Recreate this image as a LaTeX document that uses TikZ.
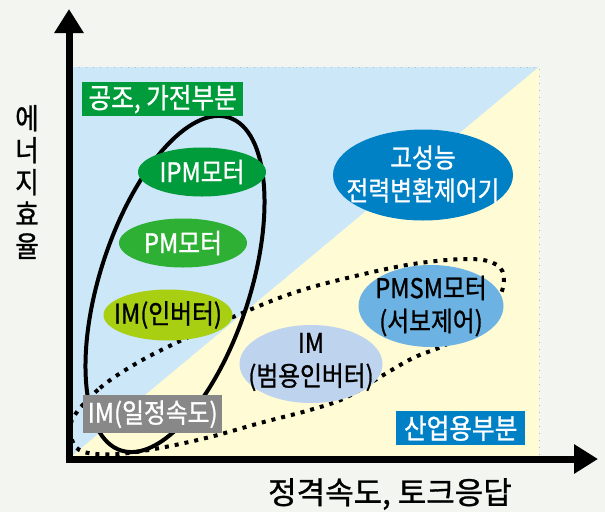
\documentclass[tikz,border=0pt]{standalone}
\usepackage{fontspec}
\setmainfont{Noto Sans CJK KR}
\newfontfamily\lblfont[FakeStretch=0.88,FakeBold=1]{Noto Sans CJK KR}
\newfontfamily\axfont[FakeBold=1]{Noto Sans CJK KR}
\usetikzlibrary{arrows.meta,shapes.geometric}
\definecolor{bg}{RGB}{243,245,240}
\definecolor{skyb}{RGB}{203,231,248}
\definecolor{creamy}{RGB}{255,251,212}
\definecolor{dkgreen}{RGB}{0,155,58}
\definecolor{ltgreen}{RGB}{45,176,52}
\definecolor{ygreen}{RGB}{168,207,18}
\definecolor{greybox}{RGB}{136,136,136}
\definecolor{paleblue}{RGB}{189,211,238}
\definecolor{midblue}{RGB}{108,178,226}
\definecolor{deepblue}{RGB}{0,129,198}
\tikzset{
  lbl/.style={font=\lblfont\fontsize{27pt}{33pt}\selectfont, inner sep=0pt, align=center},
  oval/.style={ellipse, inner sep=0pt, minimum width=#1},
  tagbox/.style={lbl, rectangle, font=\lblfont\fontsize{28pt}{30pt}\selectfont, text=white, anchor=north west},
  axisline/.style={line width=7pt, -{Triangle[width=28pt,length=24pt]}},
  groupline/.style={line width=4pt, black},
  dotline/.style={line width=4pt, black, dash pattern=on 4pt off 6pt},
  rimline/.style={gray!55, line width=0.8pt, dash pattern=on 1pt off 6pt},
  axlabel/.style={font=\axfont\fontsize{31pt}{35pt}\selectfont, inner sep=0pt, align=center},
  vlabel/.style={font=\lblfont\fontsize{29pt}{32pt}\selectfont, inner sep=0pt, align=center}
}
\begin{document}
\begin{tikzpicture}[x=1pt,y=-1pt]
\useasboundingbox (0,0) rectangle (605,512);
\fill[bg] (0,0) rectangle (605,512);
% plot area
\coordinate (pTL) at (72,67);
\coordinate (pTR) at (539,67);
\coordinate (pBR) at (539,456);
\coordinate (pBL) at (72,456);
\fill[skyb] (pBL) -- (pTL) -- (pTR) -- cycle;
\fill[creamy] (pBL) -- (pTR) -- (pBR) -- cycle;
\draw[rimline] (pTL) -- (pTR) -- (pBR);
% solid group ellipse
\node[draw, groupline, ellipse, minimum width=150pt, minimum height=350pt, rotate=-18, inner sep=0pt] (homegroup) at (175,284) {};
% dotted group
\draw[dotline] plot[smooth cycle, tension=0.6] coordinates {
  (73,418) (100,388) (137,363) (180,341) (240,314) (293,293) (347,278)
  (413,264) (470,259) (497,265) (504,281) (495,305) (470,330) (443,346)
  (413,358) (380,377) (345,398) (310,410) (260,423) (210,437) (160,448)
  (117,454) (84,452) (72,440)};
% boxes
\node[tagbox, fill=dkgreen, minimum width=161pt, minimum height=34pt] (home) at (82,82) {공조, 가전부분};
\node[tagbox, fill=deepblue, minimum width=129pt, minimum height=34pt] (industry) at (396,411) {산업용부분};
\node[lbl, rectangle, fill=greybox, text=white, minimum width=139pt, minimum height=38pt, anchor=north west] (imconst) at (83,395) {IM(일정속도)};
% ovals
\node[oval=128pt, minimum height=49pt, fill=dkgreen] (ipm) at (202,172) {};
\node[oval=128pt, minimum height=49pt, fill=ltgreen] (pm) at (183,243) {};
\node[oval=129pt, minimum height=51pt, fill=ygreen] (iminv) at (168,315) {};
\node[oval=143pt, minimum height=78pt, fill=paleblue] (imgen) at (311,364) {};
\node[oval=145pt, minimum height=82pt, fill=midblue] (pmsm) at (431,306) {};
\node[oval=180pt, minimum height=91pt, fill=deepblue] (hpc) at (423,175) {};
% oval texts
\node[lbl, text=white] (ipmtext) at (ipm.center) {IPM모터};
\node[lbl, text=white] (pmtext) at (pm.center) {PM모터};
\node[lbl, text=black] (iminvtext) at (iminv.center) {IM(인버터)};
\node[lbl, text=black] (imgentext) at ([yshift=2pt]imgen.center) {IM\\(범용인버터)};
\node[lbl, text=black] (pmsmtext) at (pmsm.center) {PMSM모터\\(서보제어)};
\node[lbl, text=white] (hpctext) at ([yshift=1pt]hpc.center) {고성능\\전력변환제어기};
% axes
\coordinate (yorig) at (69,462.5);
\coordinate (ytip) at (69,9);
\coordinate (xorig) at (65.5,459);
\coordinate (xtip) at (598,459);
\draw[axisline] (yorig) -- (ytip);
\draw[axisline] (xorig) -- (xtip);
\node[vlabel] (ylab) at (27,182) {에\\너\\지\\효\\율};
\node[axlabel] (xlab) at (390,494) {정격속도, 토크응답};
\end{tikzpicture}
\end{document}
